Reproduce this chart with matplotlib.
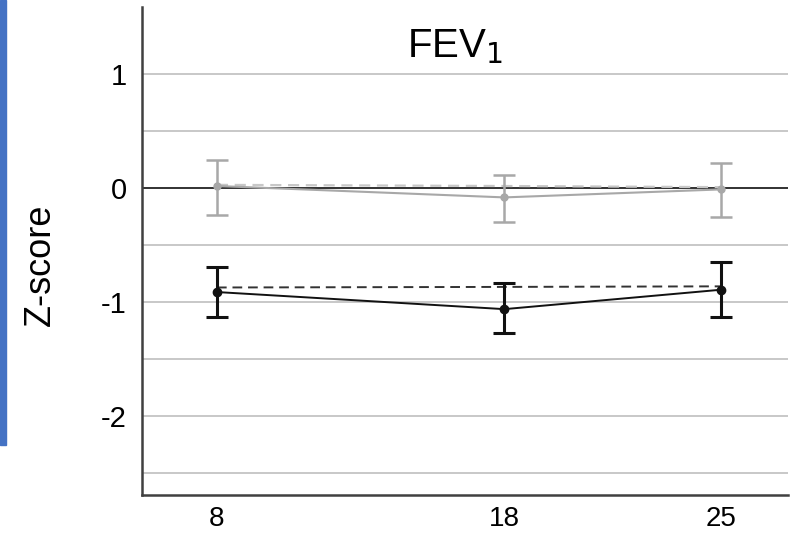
import matplotlib.pyplot as plt
from matplotlib.patches import Rectangle

plt.rcParams['font.family'] = ['Liberation Sans', 'DejaVu Sans']

# idade (valores no eixo) e rotulos
idades = [8, 17.7, 25]
rotulos_x = ['8', '18', '25']

# serie cinza (referencia)
cinza_media = [0.02, -0.08, -0.01]
cinza_sup = [0.25, 0.12, 0.22]
cinza_inf = [-0.23, -0.30, -0.25]
cinza_tracejado = [0.03, 0.02, 0.01]

# serie preta
preto_media = [-0.91, -1.06, -0.89]
preto_sup = [-0.69, -0.83, -0.65]
preto_inf = [-1.13, -1.27, -1.13]
preto_tracejado = [-0.87, -0.865, -0.86]

yticks = [-2, -1, 0, 1]
grade = [-2.5, -2, -1.5, -1, -0.5, 0.5, 1]

fig = plt.figure(figsize=(7.9, 5.37), dpi=100)
ax = fig.add_axes([0.1797, 0.0782, 0.8173, 0.9088])

# barra azul na esquerda
fig.patches.append(Rectangle((0, 1 - 445 / 537), 6 / 790, 445 / 537,
                             transform=fig.transFigure, color='#4472C4', zorder=0))

for g in grade:
    ax.axhline(g, color='#c8c8c8', lw=1.4, zorder=0)
ax.axhline(0, color='#222222', lw=1.3, zorder=1)

# cinza
ax.plot(idades, cinza_tracejado, color='#c8c8c8', lw=1.6, ls=(0, (5, 3)), zorder=2)
erro_c = [[m - i for m, i in zip(cinza_media, cinza_inf)],
          [s - m for m, s in zip(cinza_media, cinza_sup)]]
ax.errorbar(idades, cinza_media, yerr=erro_c, color='#a8a8a8', lw=1.5,
            elinewidth=1.8, capsize=8, capthick=1.8, marker='o', ms=5, zorder=3)

# preto
ax.plot(idades, preto_tracejado, color='#333333', lw=1.4, ls=(0, (5, 3)), zorder=4)
erro_p = [[m - i for m, i in zip(preto_media, preto_inf)],
          [s - m for m, s in zip(preto_media, preto_sup)]]
ax.errorbar(idades, preto_media, yerr=erro_p, color='#111111', lw=1.4,
            elinewidth=2.2, capsize=8, capthick=2.2, marker='o', ms=6, zorder=5)

ax.set_xlim(5.47, 27.26)
ax.set_ylim(-2.69, 1.59)
ax.set_yticks(yticks)
ax.set_yticklabels([str(v) for v in yticks], fontsize=21)
ax.set_xticks([8, 17.7, 25])
ax.set_xticklabels(rotulos_x, fontsize=20)
ax.tick_params(axis='y', length=0, pad=11)
ax.tick_params(axis='x', length=0, pad=8)

for lado in ['top', 'right']:
    ax.spines[lado].set_visible(False)
for lado in ['left', 'bottom']:
    ax.spines[lado].set_color('#404040')
    ax.spines[lado].set_linewidth(1.8)

ax.text(455 / 790, 1 - 47 / 537, 'FEV$_1$', transform=fig.transFigure,
        ha='center', va='center', fontsize=29)
fig.text(40 / 790, 1 - 265 / 537, 'Z-score', rotation=90, ha='center', va='center',
         fontsize=26)

fig.savefig('out.png', dpi=100)
